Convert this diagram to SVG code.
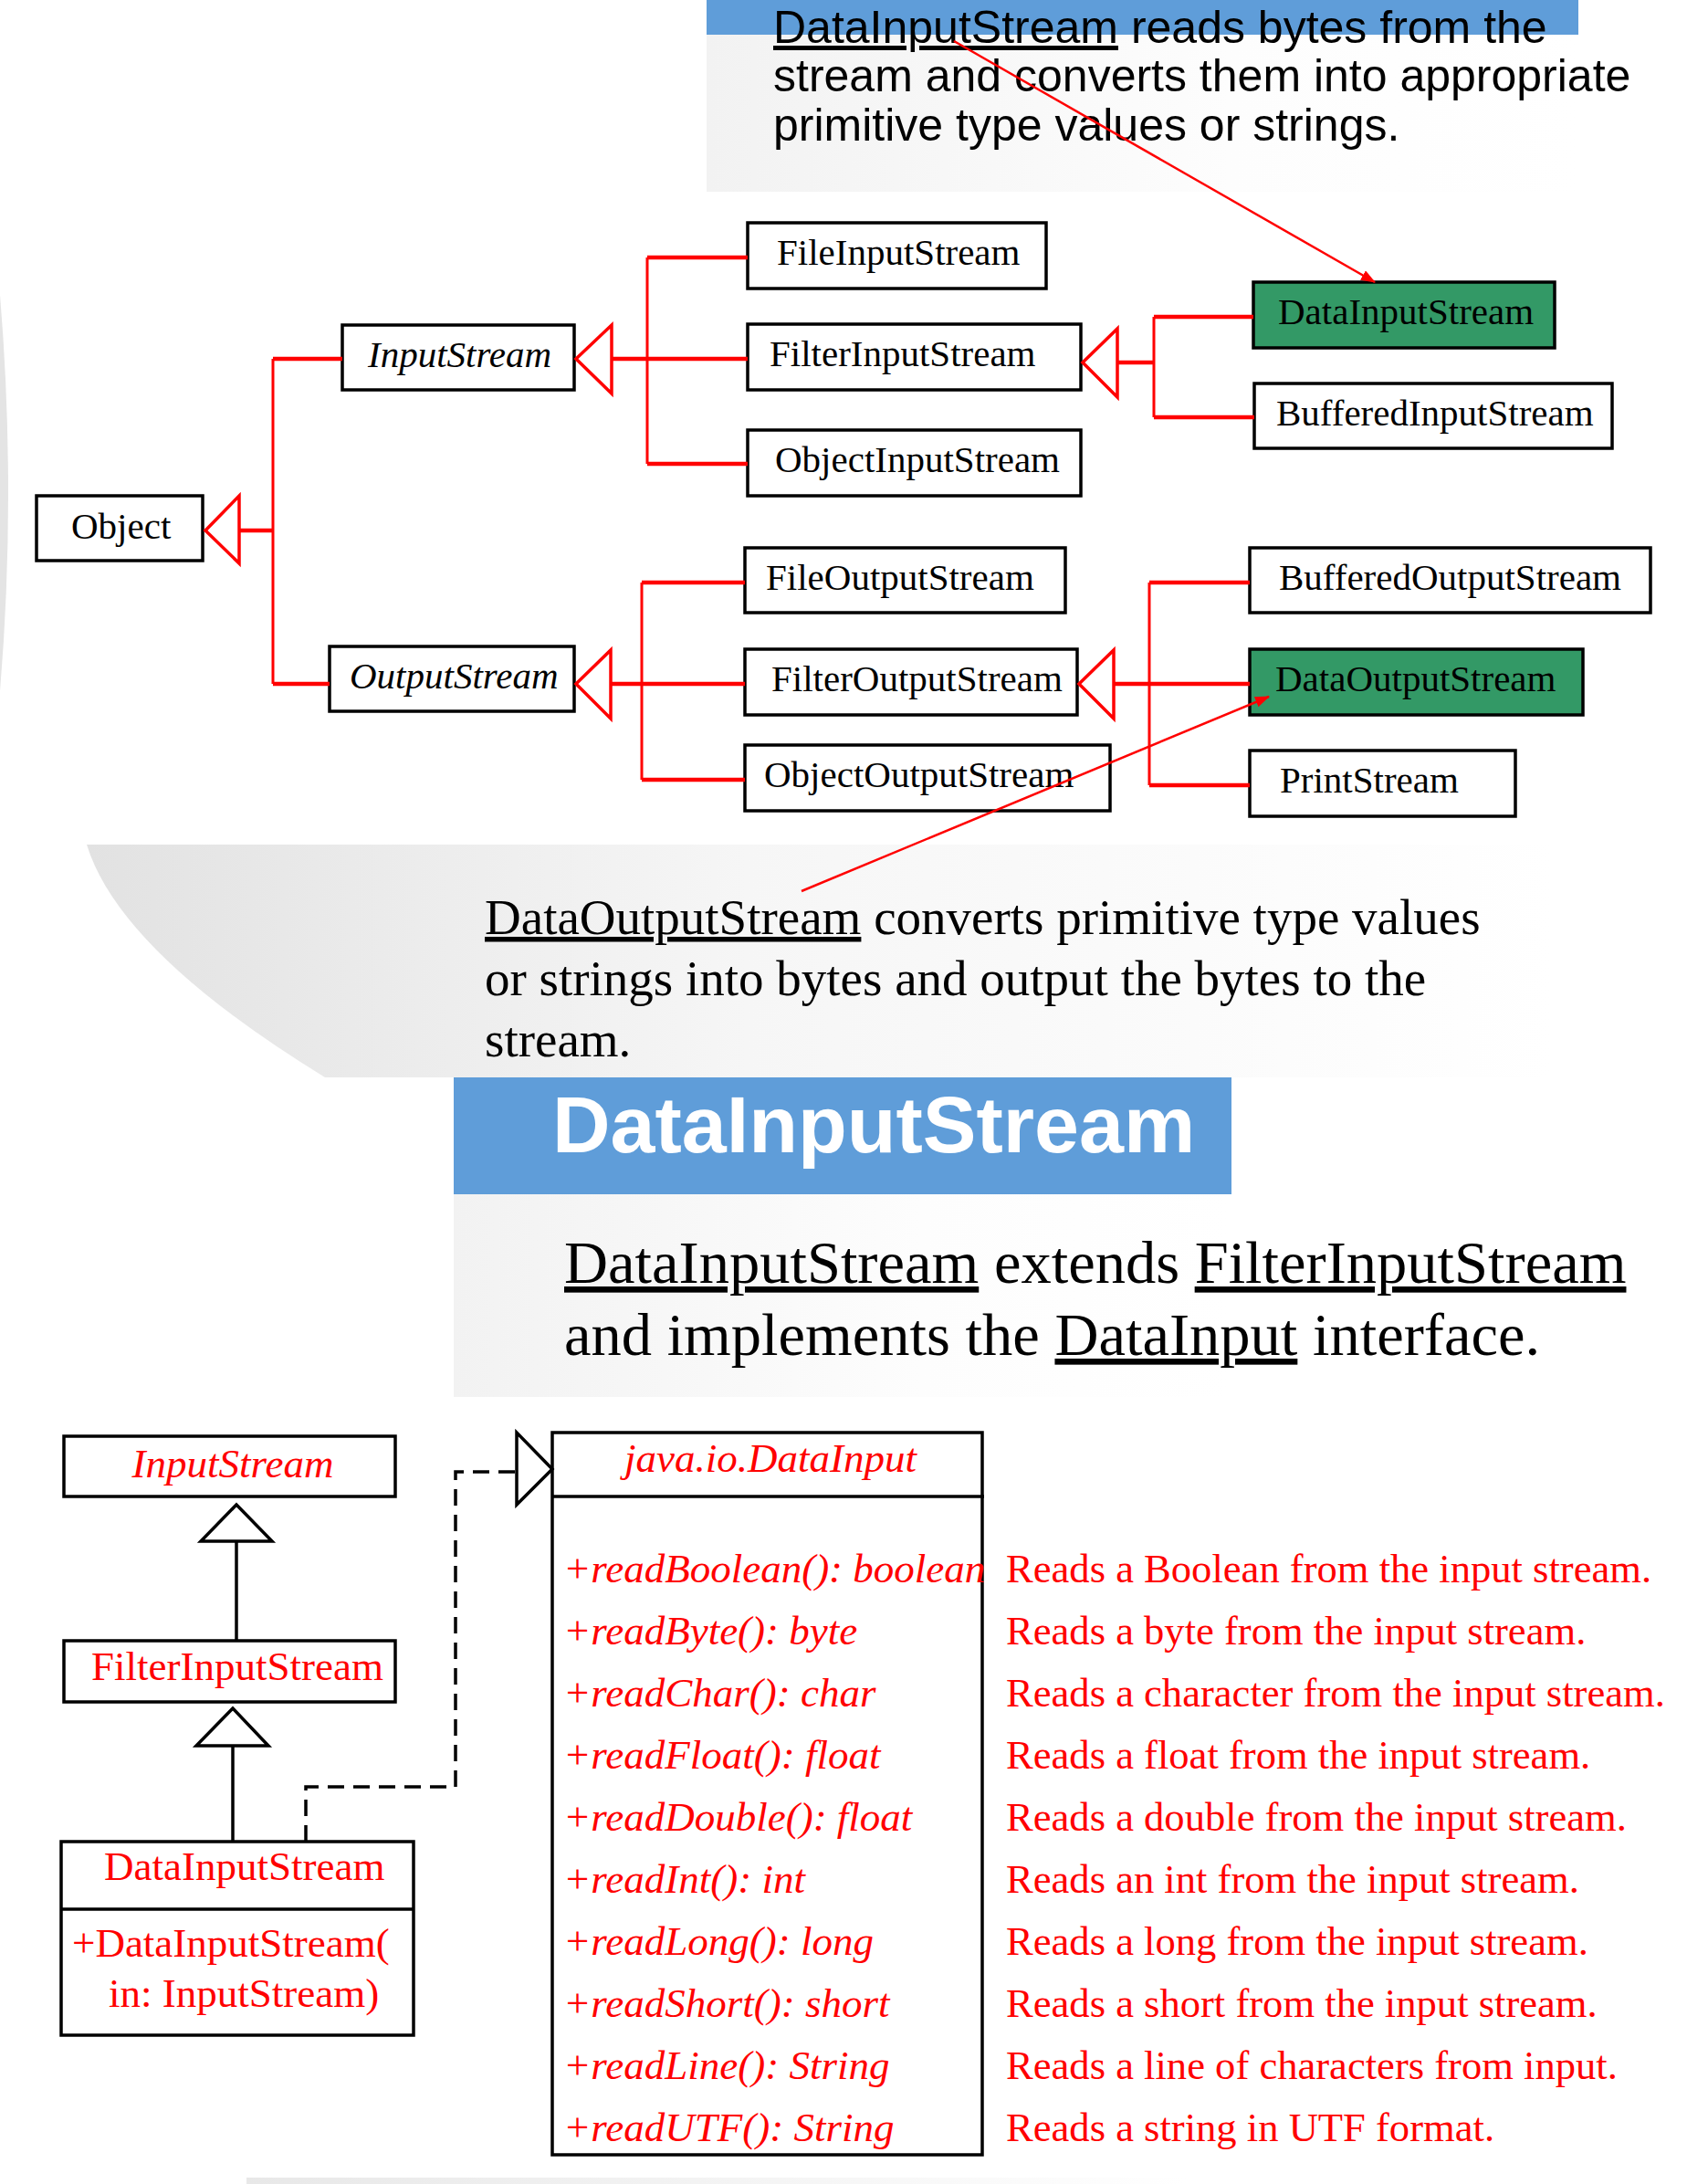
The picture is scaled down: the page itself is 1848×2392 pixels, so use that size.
<svg xmlns="http://www.w3.org/2000/svg" width="1848" height="2392" viewBox="0 0 1848 2392">
<style>
.box{fill:#fff;stroke:#000;stroke-width:3.5}
.green{fill:#339966;stroke:#000;stroke-width:3.5}
.t{font-family:"Liberation Serif","Times New Roman",serif;font-size:41px;fill:#000}
.it{font-style:italic}
.red{fill:none;stroke:#f00;stroke-width:3}
.redh{fill:none;stroke:#f00;stroke-width:4.5}
.tri{fill:#fff;stroke:#f00;stroke-width:3.5}
.uml{fill:#fff;stroke:#000;stroke-width:3.5}
.umlt{font-family:"Liberation Serif","Times New Roman",serif;font-size:45px;fill:#f00}
.desc{font-family:"Liberation Serif","Times New Roman",serif;font-size:44.6px;fill:#f00}
.para{font-family:"Liberation Serif","Times New Roman",serif;fill:#000}
.u{text-decoration:underline}
</style>
<defs>
<linearGradient id="g1" x1="0" y1="0" x2="1" y2="0">
<stop offset="0" stop-color="#f2f2f2"/><stop offset="0.6" stop-color="#fdfdfd"/><stop offset="1" stop-color="#ffffff"/>
</linearGradient>
<linearGradient id="g2" gradientUnits="userSpaceOnUse" x1="95" y1="0" x2="1700" y2="0">
<stop offset="0" stop-color="#e2e2e2"/><stop offset="0.45" stop-color="#f6f6f6"/><stop offset="1" stop-color="#ffffff"/>
</linearGradient>
<linearGradient id="g3" gradientUnits="userSpaceOnUse" x1="270" y1="0" x2="1300" y2="0">
<stop offset="0" stop-color="#e8e8e8"/><stop offset="1" stop-color="#ffffff"/>
</linearGradient>
<marker id="ah" markerWidth="16" markerHeight="12" refX="15" refY="6" orient="auto" markerUnits="userSpaceOnUse">
<path d="M0,0 L16,6 L0,12 Z" fill="#f00"/>
</marker>
</defs>
<rect width="1848" height="2392" fill="#fff"/>

<!-- background decorations -->
<rect x="774" y="38" width="955" height="172" fill="url(#g1)"/>
<rect x="774" y="0" width="955" height="38" fill="#5f9dd9"/>
<path d="M0,323 Q18,540 0,757 Z" fill="#e4e4e4"/>
<path d="M95,925 L1848,925 L1848,1180 L356,1180 Q131,1042 95,925 Z" fill="url(#g2)"/>
<rect x="497" y="1308" width="852" height="222" fill="url(#g1)"/>
<rect x="497" y="1180" width="852" height="128" fill="#5f9dd9"/>
<rect x="270" y="2385" width="1578" height="7" fill="url(#g3)"/>

<!-- top paragraph -->
<text font-family="'Liberation Sans',Arial,sans-serif" font-size="50" fill="#000">
<tspan x="847" y="47"><tspan class="u">DataInputStream</tspan> reads bytes from the</tspan>
<tspan x="847" y="100">stream and converts them into appropriate</tspan>
<tspan x="847" y="154">primitive type values or strings.</tspan>
</text>

<!-- tree nodes -->
<g id="object"><rect class="box" x="40" y="543" width="182" height="71"/><text class="t" x="78" y="590">Object</text></g>
<g id="inputstream"><rect class="box" x="375" y="356" width="254" height="71"/><text class="t it" x="403" y="402" font-size="44">InputStream</text></g>
<g id="outputstream"><rect class="box" x="361" y="708" width="268" height="71"/><text class="t it" x="383" y="754" font-size="42">OutputStream</text></g>
<g id="fileinputstream"><rect class="box" x="819" y="244" width="327" height="72"/><text class="t" x="851" y="290">FileInputStream</text></g>
<g id="filterinputstream"><rect class="box" x="819" y="355" width="365" height="72"/><text class="t" x="843" y="401">FilterInputStream</text></g>
<g id="objectinputstream"><rect class="box" x="819" y="471" width="365" height="72"/><text class="t" x="849" y="517">ObjectInputStream</text></g>
<g id="datainputstream"><rect class="green" x="1373" y="309" width="330" height="72"/><text class="t" x="1400" y="355">DataInputStream</text></g>
<g id="bufferedinputstream"><rect class="box" x="1374" y="420" width="392" height="71"/><text class="t" x="1398" y="466">BufferedInputStream</text></g>
<g id="fileoutputstream"><rect class="box" x="816" y="600" width="351" height="71"/><text class="t" x="839" y="646">FileOutputStream</text></g>
<g id="bufferedoutputstream"><rect class="box" x="1369" y="600" width="439" height="71"/><text class="t" x="1401" y="646">BufferedOutputStream</text></g>
<g id="filteroutputstream"><rect class="box" x="816" y="711" width="364" height="72"/><text class="t" x="845" y="757">FilterOutputStream</text></g>
<g id="dataoutputstream"><rect class="green" x="1369" y="711" width="365" height="72"/><text class="t" x="1397" y="757">DataOutputStream</text></g>
<g id="objectoutputstream"><rect class="box" x="816" y="816" width="400" height="72"/><text class="t" x="837" y="862">ObjectOutputStream</text></g>
<g id="printstream"><rect class="box" x="1369" y="822" width="291" height="72"/><text class="t" x="1402" y="868">PrintStream</text></g>

<!-- middle paragraph -->
<text class="para" font-size="55">
<tspan x="531" y="1023"><tspan class="u">DataOutputStream</tspan> converts primitive type values</tspan>
<tspan x="531" y="1090">or strings into bytes and output the bytes to the</tspan>
<tspan x="531" y="1157">stream.</tspan>
</text>

<!-- title -->
<text x="605" y="1262" font-family="'Liberation Sans',Arial,sans-serif" font-size="88" font-weight="bold" fill="#fff">DataInputStream</text>

<!-- lower paragraph -->
<text class="para" font-size="66.5">
<tspan x="618" y="1405"><tspan class="u">DataInputStream</tspan> extends <tspan class="u">FilterInputStream</tspan></tspan>
<tspan x="618" y="1484">and implements the <tspan class="u">DataInput</tspan> interface.</tspan>
</text>

<!-- UML nodes -->
<g id="uml-inputstream"><rect class="uml" x="70" y="1573" width="363" height="66"/><text class="umlt it" x="255" y="1618" text-anchor="middle" font-size="46">InputStream</text></g>
<g id="uml-filterinputstream"><rect class="uml" x="70" y="1797" width="363" height="67"/><text class="umlt" x="100" y="1840">FilterInputStream</text></g>
<g id="uml-datainputstream"><rect class="uml" x="67" y="2017" width="386" height="212"/><line x1="67" y1="2091" x2="453" y2="2091" stroke="#000" stroke-width="3.5"/>
<text class="umlt" x="114" y="2059">DataInputStream</text>
<text class="umlt" x="79" y="2143">+DataInputStream(</text>
<text class="umlt" x="119" y="2198">in: InputStream)</text></g>
<g id="uml-datainput"><rect class="uml" x="605" y="1569" width="471" height="791"/><line x1="605" y1="1639" x2="1078" y2="1639" stroke="#000" stroke-width="3.5"/>
<text class="umlt it" x="684" y="1612">java.io.DataInput</text>
<g class="umlt it">
<text x="617" y="1733">+readBoolean(): boolean</text>
<text x="617" y="1801">+readByte(): byte</text>
<text x="617" y="1869">+readChar(): char</text>
<text x="617" y="1937">+readFloat(): float</text>
<text x="617" y="2005">+readDouble(): float</text>
<text x="617" y="2073">+readInt(): int</text>
<text x="617" y="2141">+readLong(): long</text>
<text x="617" y="2209">+readShort(): short</text>
<text x="617" y="2277">+readLine(): String</text>
<text x="617" y="2345">+readUTF(): String</text>
</g></g>
<g id="descriptions" class="desc">
<text x="1102" y="1733">Reads a Boolean from the input stream.</text>
<text x="1102" y="1801">Reads a byte from the input stream.</text>
<text x="1102" y="1869">Reads a character from the input stream.</text>
<text x="1102" y="1937">Reads a float from the input stream.</text>
<text x="1102" y="2005">Reads a double from the input stream.</text>
<text x="1102" y="2073">Reads an int from the input stream.</text>
<text x="1102" y="2141">Reads a long from the input stream.</text>
<text x="1102" y="2209">Reads a short from the input stream.</text>
<text x="1102" y="2277">Reads a line of characters from input.</text>
<text x="1102" y="2345">Reads a string in UTF format.</text>
</g>

<!-- connectors -->
<g id="connectors">
<polygon class="tri" points="225,581 262,543 262,617"/>
<line class="redh" x1="262" y1="581" x2="299" y2="581"/>
<line class="red" x1="299" y1="393" x2="299" y2="749"/>
<line class="redh" x1="299" y1="393" x2="375" y2="393"/>
<line class="redh" x1="299" y1="749" x2="361" y2="749"/>

<polygon class="tri" points="631,393 670,356 670,431"/>
<line class="redh" x1="670" y1="393" x2="709" y2="393"/>
<line class="red" x1="709" y1="282" x2="709" y2="508"/>
<line class="redh" x1="709" y1="282" x2="819" y2="282"/>
<line class="redh" x1="709" y1="393" x2="819" y2="393"/>
<line class="redh" x1="709" y1="508" x2="819" y2="508"/>

<polygon class="tri" points="1186,397 1224,360 1224,435"/>
<line class="redh" x1="1224" y1="397" x2="1264" y2="397"/>
<line class="red" x1="1264" y1="347" x2="1264" y2="457"/>
<line class="redh" x1="1264" y1="347" x2="1373" y2="347"/>
<line class="redh" x1="1264" y1="457" x2="1374" y2="457"/>

<polygon class="tri" points="631,749 669,712 669,787"/>
<line class="redh" x1="669" y1="749" x2="703" y2="749"/>
<line class="red" x1="703" y1="638" x2="703" y2="854"/>
<line class="redh" x1="703" y1="638" x2="816" y2="638"/>
<line class="redh" x1="703" y1="749" x2="816" y2="749"/>
<line class="redh" x1="703" y1="854" x2="816" y2="854"/>

<polygon class="tri" points="1182,749 1220,712 1220,787"/>
<line class="redh" x1="1220" y1="749" x2="1259" y2="749"/>
<line class="red" x1="1259" y1="638" x2="1259" y2="860"/>
<line class="redh" x1="1259" y1="638" x2="1369" y2="638"/>
<line class="redh" x1="1259" y1="749" x2="1369" y2="749"/>
<line class="redh" x1="1259" y1="860" x2="1369" y2="860"/>

<line x1="1045" y1="45" x2="1506" y2="309" stroke="#f00" stroke-width="2.5" marker-end="url(#ah)"/>
<line x1="878" y1="976" x2="1390" y2="763" stroke="#f00" stroke-width="2.5" marker-end="url(#ah)"/>

<polygon points="259,1648 220,1688 298,1688" fill="#fff" stroke="#000" stroke-width="3.5"/>
<line x1="259" y1="1688" x2="259" y2="1797" stroke="#000" stroke-width="3.5"/>
<polygon points="255,1871 215,1912 294,1912" fill="#fff" stroke="#000" stroke-width="3.5"/>
<line x1="255" y1="1912" x2="255" y2="2017" stroke="#000" stroke-width="3.5"/>
<path d="M335,2017 V1957 H499 V1612 H566" fill="none" stroke="#000" stroke-width="3.5" stroke-dasharray="18,10"/>
<polygon points="566,1569 566,1648 605,1609" fill="#fff" stroke="#000" stroke-width="3.5"/>
</g>
</svg>
